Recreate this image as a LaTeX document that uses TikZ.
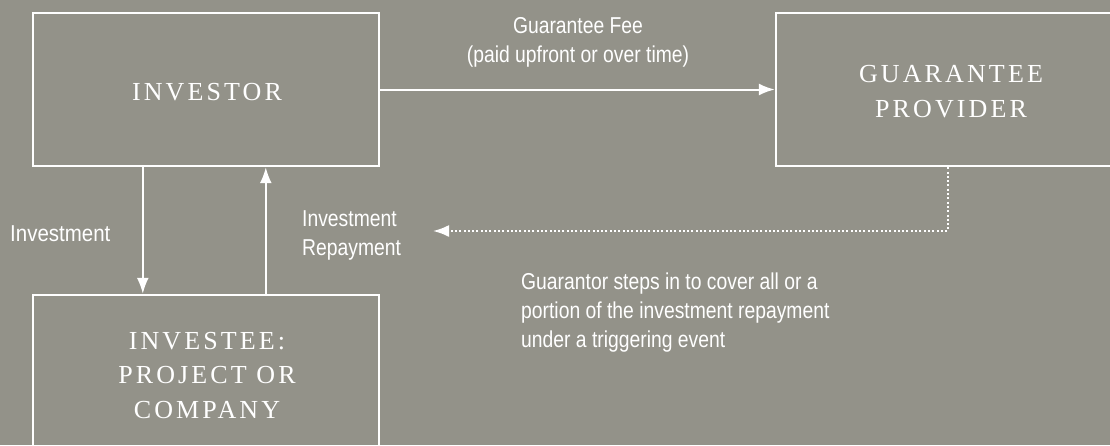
\documentclass[tikz,border=0pt]{standalone}
\usepackage{fontspec}
\setmainfont{Liberation Serif}
\newfontfamily\labfont[FakeStretch=0.84]{Liberation Sans}
\newfontfamily\ttlfont[LetterSpace=12]{Liberation Serif}
\usetikzlibrary{arrows.meta}
\definecolor{bg}{RGB}{147,146,137}
\begin{document}
\begin{tikzpicture}[x=1pt,y=-1pt,
  box/.style={draw=white,line width=2.4pt,inner sep=0pt},
  arr/.style={draw=white,line width=2pt,-{Latex[length=16pt,width=12pt]}},
  dotarr/.style={draw=white,line width=2pt,dash pattern=on 2pt off 2.3pt,-{Latex[length=16pt,width=12pt]}},
  lab/.style={text=white,font=\labfont\fontsize{23}{29}\selectfont,inner sep=0pt},
  ttl/.style={text=white,font=\ttlfont\fontsize{26}{34.5}\selectfont,inner sep=0pt,align=center}]
\fill[bg] (0,0) rectangle (1110,445);
\useasboundingbox (0,0) rectangle (1110,445);
\node[box,minimum width=346pt,minimum height=153pt] (inv) at (206,89.5) {};
\node[box,minimum width=349pt,minimum height=153pt] (gp) at (950.5,89.5) {};
\node[box,minimum width=346pt,minimum height=185pt] (ee) at (206,387.5) {};
\node[ttl,anchor=base] (tinv) at (207,100) {INVESTOR};
\node[ttl,anchor=base] (tgp) at (951,117) {GUARANTEE\\PROVIDER};
\node[ttl,anchor=base] (tee) at (207,418) {INVESTEE:\\PROJECT OR\\COMPANY};
\node[lab,anchor=base,align=center] (lfee) at (578,62) {Guarantee Fee\\(paid upfront or over time)};
\node[lab,anchor=base west,xscale=1.06] (linv) at (10,241) {Investment};
\node[lab,anchor=base west,align=left] (lrep) at (302,255) {Investment\\Repayment};
\node[lab,anchor=base west,align=left] (lgua) at (521,347) {Guarantor steps in to cover all or a\\portion of the investment repayment\\under a triggering event};
\draw[arr] (inv.east) -- (gp.west);
\draw[arr] ([xshift=111pt]inv.south west) -- ([xshift=111pt]ee.north west);
\draw[arr] ([xshift=234pt]ee.north west) -- ([xshift=234pt]inv.south west);
\coordinate (dend) at (433,231);
\draw[dotarr] ([xshift=173pt]gp.south west) |- (dend);
\end{tikzpicture}
\end{document}
